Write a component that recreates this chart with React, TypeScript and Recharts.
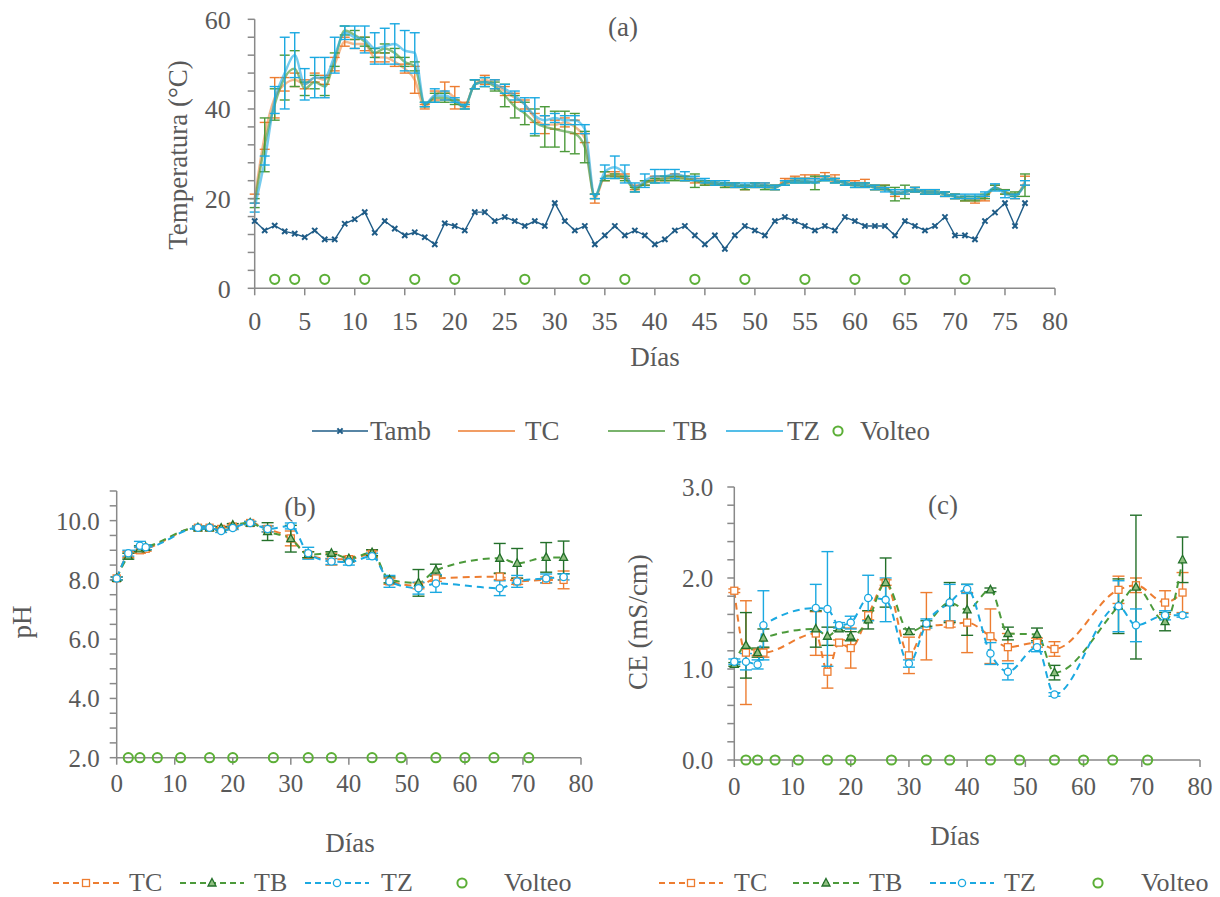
import React from "react";
import { ComposedChart, Line, XAxis, YAxis, ErrorBar } from "recharts";

const FONT = '"Liberation Serif", "DejaVu Serif", "Times New Roman", serif';
const TEXT = "#595959";
const AXIS = "#898989";
const C_TAMB = "#1F5C87";
const C_TC = "#ED7D31";
const C_TB = "#4C9A3B";
const C_TB_DARK = "#23702A";
const C_TZ = "#1BA9E1";
const C_VOL = "#5CAF37";

// ---- (a) temperatura diaria ----
const dias = [
  0, 1, 2, 3, 4, 5, 6, 7, 8, 9, 10, 11, 12, 13, 14, 15, 16, 17, 18, 19,
  20, 21, 22, 23, 24, 25, 26, 27, 28, 29, 30, 31, 32, 33, 34, 35, 36, 37, 38, 39,
  40, 41, 42, 43, 44, 45, 46, 47, 48, 49, 50, 51, 52, 53, 54, 55, 56, 57, 58, 59,
  60, 61, 62, 63, 64, 65, 66, 67, 68, 69, 70, 71, 72, 73, 74, 75, 76, 77,
];
const tamb = [
  15.0, 12.9, 14.0, 12.7, 12.2, 11.4, 12.9, 10.9, 10.9, 14.4, 15.4, 17.0, 12.4, 15.0, 13.3, 11.8, 12.5, 11.4, 9.8, 14.5,
  13.9, 12.9, 17.0, 17.0, 15.0, 15.9, 15.0, 13.9, 15.0, 13.9, 19.0, 15.0, 12.9, 13.9, 9.8, 11.8, 13.9, 11.8, 12.9, 11.8,
  9.8, 10.9, 12.9, 13.9, 11.8, 9.8, 11.8, 8.8, 11.8, 13.9, 12.9, 11.8, 15.0, 15.9, 15.0, 13.9, 12.9, 13.9, 12.9, 15.9,
  15.0, 13.9, 13.9, 13.9, 11.8, 15.0, 13.9, 12.9, 13.9, 15.9, 11.8, 11.8, 10.9, 15.0, 16.9, 19.0, 13.9, 19.0,
];
const tempTC = [
  20, 34, 42.5, 45.5, 46.5, 45.5, 47, 46.5, 50, 55, 54.5, 54.5, 51.5, 51.5, 50.5, 49, 46.5, 40.5, 43, 44,
  42.5, 41, 45.5, 46.5, 45.5, 44, 42.5, 41, 38, 36.5, 36.5, 37, 36, 33.5, 20, 25, 25.5, 25, 22.5, 23.5,
  24.5, 24.5, 25, 24.5, 24, 23.5, 23.5, 23, 23, 22.5, 23, 23, 22.5, 24, 24.5, 24.5, 24.5, 25, 24.5, 23.5,
  23.5, 23.5, 22.5, 22.5, 21, 21.5, 22, 21.5, 21.5, 21, 20.5, 20, 19.5, 20, 22.5, 21.5, 20.5, 24,
];
const tempTCErr = [
  1, 3, 4.5, 1.5, 1.5, 1, 1, 1, 1.5, 1, 1, 1.5, 1, 1, 1, 1, 3, 0.5, 1, 2,
  2.5, 0.5, 1, 1, 1, 1, 1, 1, 1, 2, 1, 1, 1.5, 1, 1, 1, 0.5, 0.5, 0.5, 0.5,
  0.5, 0.5, 0.5, 0.5, 0.5, 0.5, 0.5, 0.5, 0.5, 0.5, 0.5, 0.5, 0.5, 0.5, 0.5, 0.8, 0.8, 0.8, 0.8, 0.5,
  0.5, 0.8, 0.5, 0.5, 0.5, 0.5, 0.5, 0.5, 0.5, 0.5, 0.5, 0.5, 0.5, 0.5, 0.5, 0.5, 0.5, 1,
];
const tempTB = [
  19, 32, 41, 47, 49, 44.5, 46, 45, 51, 57.5, 56.5, 55, 52.5, 53.5, 52.5, 50.5, 49.5, 41, 42.5, 42.5,
  41.5, 40.5, 45.5, 46, 45, 43, 40.5, 39, 37, 36, 35.5, 35, 34.5, 31.5, 20.5, 25, 25, 24.5, 22, 23.5,
  24, 24.5, 24.5, 24.5, 24, 23.5, 23.5, 23, 23, 22.5, 23, 22.5, 22.5, 23.5, 24, 24, 23.5, 24.5, 24, 23.5,
  23, 23, 22.5, 22.5, 21, 21.5, 22, 21.5, 21.5, 21, 20.5, 20, 20, 20.5, 22.5, 21.5, 21, 23,
];
const tempTBErr = [
  1, 6, 3.5, 5, 4, 1.5, 1.5, 2, 1.5, 1, 1, 1, 1, 1, 1, 1, 1, 0.5, 1, 1,
  0.5, 0.5, 1, 1, 1, 2.5, 2.5, 2.5, 3, 4.5, 4, 4.5, 4.5, 3.5, 0.5, 1, 0.5, 0.5, 0.5, 0.5,
  0.5, 0.5, 0.5, 0.5, 1.5, 0.5, 0.5, 0.5, 0.5, 0.5, 0.5, 0.5, 0.5, 0.5, 0.5, 0.5, 1.5, 0.5, 0.5, 0.5,
  0.5, 0.5, 0.5, 0.5, 1.5, 1.5, 0.5, 0.5, 0.5, 0.5, 0.5, 0.5, 0.5, 0.5, 0.5, 0.5, 0.5, 2.5,
];
const tempTZ = [
  18, 28.5, 42, 48, 52, 45.5, 47, 47, 52, 57, 56, 55.5, 53.5, 54, 54.5, 53, 52.5, 41, 43, 43,
  42, 40.5, 45.5, 46, 45.5, 44.5, 43, 41, 38.5, 37.5, 38, 37.5, 37.5, 35.5, 20.5, 26, 27, 25.5, 22.5, 24,
  25, 25, 25.5, 25, 24.5, 24, 23.5, 23.5, 23, 23, 23, 23, 22.5, 23.5, 24, 24, 24, 24.5, 24, 23.5,
  23, 23, 22.5, 22, 21.5, 21.5, 22, 21.5, 21.5, 21, 20.5, 20.5, 20.5, 21, 22.5, 21, 20.5, 23.5,
];
const tempTZErr = [
  1, 1, 3, 8, 5, 3.5, 4.5, 4.5, 4, 1.5, 2.5, 3, 3.5, 4, 4.5, 4.5, 4.5, 0.5, 1.5, 1,
  0.5, 0.5, 1, 1, 1, 1, 1, 1.5, 4, 1, 1, 1, 1, 1, 0.5, 1.5, 2.5, 2, 1, 1.5,
  1.5, 1.5, 1, 1, 0.5, 0.5, 0.5, 0.5, 0.5, 0.5, 0.5, 0.5, 0.5, 0.5, 0.5, 0.5, 0.5, 0.5, 0.5, 0.5,
  0.5, 0.5, 0.5, 0.5, 0.5, 0.5, 0.5, 0.5, 0.5, 0.5, 0.5, 0.5, 0.5, 0.5, 0.8, 0.8, 0.5, 0.5,
];

// ---- volteos ----
const volteoDias = [2, 4, 7, 11, 16, 20, 27, 33, 37, 44, 49, 55, 60, 65, 71];
const volteoTemp = 2;
const volteoPH = 2;
const volteoCE = 0;

// ---- (b) pH y (c) CE por muestreo ----
const muestreo = [0, 2, 4, 5, 14, 16, 18, 20, 23, 26, 30, 33, 37, 40, 44, 47, 52, 55, 66, 69, 74, 77];
const phTC = [8.05, 8.85, 9.0, 9.05, 9.76, 9.76, 9.72, 9.8, 9.92, 9.72, 9.4, 8.85, 8.7, 8.7, 8.88, 7.95, 7.8, 8.05, 8.11, 7.95, 8.0, 8.0];
const phTCErr = [0.05, 0.1, 0.1, 0.08, 0.05, 0.05, 0.05, 0.05, 0.05, 0.1, 0.25, 0.1, 0.2, 0.1, 0.1, 0.1, 0.1, 0.1, 0.1, 0.1, 0.1, 0.3];
const phTB = [8.05, 8.8, 9.05, 9.1, 9.76, 9.76, 9.75, 9.85, 9.92, 9.63, 9.39, 8.85, 8.9, 8.72, 8.92, 8.0, 7.9, 8.33, 8.73, 8.56, 8.76, 8.76];
const phTBErr = [0.05, 0.1, 0.1, 0.08, 0.05, 0.05, 0.05, 0.05, 0.05, 0.3, 0.45, 0.1, 0.05, 0.05, 0.1, 0.1, 0.45, 0.2, 0.5, 0.5, 0.5, 0.55];
const phTZ = [8.05, 8.9, 9.15, 9.1, 9.76, 9.76, 9.65, 9.75, 9.92, 9.72, 9.82, 8.9, 8.62, 8.6, 8.8, 7.95, 7.72, 7.88, 7.72, 7.95, 8.05, 8.1];
const phTZErr = [0.05, 0.1, 0.15, 0.08, 0.05, 0.05, 0.05, 0.05, 0.05, 0.1, 0.1, 0.2, 0.1, 0.1, 0.1, 0.2, 0.2, 0.3, 0.25, 0.2, 0.15, 0.1];

const ceTC = [1.86, 1.18, 1.18, 1.18, 1.39, 0.97, 1.29, 1.23, 1.59, 1.95, 1.15, 1.47, 1.49, 1.51, 1.36, 1.24, 1.29, 1.22, 1.87, 1.92, 1.73, 1.84];
const ceTCErr = [0.02, 0.57, 0.03, 0.05, 0.24, 0.18, 0.03, 0.22, 0.05, 0.03, 0.2, 0.37, 0.03, 0.33, 0.3, 0.15, 0.05, 0.08, 0.15, 0.08, 0.13, 0.22];
const ceTB = [1.05, 1.26, 1.18, 1.34, 1.44, 1.36, 1.44, 1.36, 1.54, 1.95, 1.41, 1.5, 1.73, 1.65, 1.87, 1.39, 1.38, 0.96, 1.69, 1.9, 1.52, 2.2];
const ceTBErr = [0.02, 0.36, 0.05, 0.1, 0.2, 0.1, 0.02, 0.05, 0.1, 0.27, 0.03, 0.03, 0.22, 0.28, 0.02, 0.07, 0.07, 0.08, 0.3, 0.79, 0.1, 0.25];
const ceTZ = [1.08, 1.08, 1.05, 1.48, 1.67, 1.66, 1.48, 1.51, 1.78, 1.76, 1.06, 1.5, 1.73, 1.88, 1.17, 0.97, 1.24, 0.72, 1.69, 1.48, 1.59, 1.59];
const ceTZErr = [0.03, 0.09, 0.05, 0.38, 0.26, 0.63, 0.03, 0.07, 0.25, 0.24, 0.04, 0.05, 0.2, 0.05, 0.12, 0.09, 0.05, 0.02, 0.28, 0.18, 0.05, 0.02];

// ---- ejes ----
const xTicksA = [0, 5, 10, 15, 20, 25, 30, 35, 40, 45, 50, 55, 60, 65, 70, 75, 80];
const yTicksA = [0, 4, 8, 12, 16, 20, 24, 28, 32, 36, 40, 44, 48, 52, 56, 60];
const xTicksBC = [0, 10, 20, 30, 40, 50, 60, 70, 80];
const yTicksB = [2, 2.5, 3, 3.5, 4, 4.5, 5, 5.5, 6, 6.5, 7, 7.5, 8, 8.5, 9, 9.5, 10, 10.5, 11];
const yTicksC = [0, 0.2, 0.4, 0.6, 0.8, 1, 1.2, 1.4, 1.6, 1.8, 2, 2.2, 2.4, 2.6, 2.8, 3];

const tempRows = dias.map((d, i) => ({
  d,
  tamb: tamb[i],
  tc: tempTC[i],
  tcE: tempTCErr[i],
  tb: tempTB[i],
  tbE: tempTBErr[i],
  tz: tempTZ[i],
  tzE: tempTZErr[i],
}));
const phRows = muestreo.map((d, i) => ({
  d,
  tc: phTC[i], tcE: phTCErr[i],
  tb: phTB[i], tbE: phTBErr[i],
  tz: phTZ[i], tzE: phTZErr[i],
}));
const ceRows = muestreo.map((d, i) => ({
  d,
  tc: ceTC[i], tcE: ceTCErr[i],
  tb: ceTB[i], tbE: ceTBErr[i],
  tz: ceTZ[i], tzE: ceTZErr[i],
}));
const volRows = (v: number) => volteoDias.map((d) => ({ d, v }));

const tickA = { fill: TEXT, fontSize: 26, fontFamily: FONT };
const tickBC = { fill: TEXT, fontSize: 25, fontFamily: FONT };
const axisLineStyle = { stroke: AXIS, strokeWidth: 1.5 };
const tickLineStyle = { stroke: AXIS, strokeWidth: 1.5 };

function XDot(props: any) {
  const { cx, cy, index } = props;
  const s = 2.6;
  return (
    <path
      key={`x-${index}`}
      d={`M${cx - s},${cy - s}L${cx + s},${cy + s}M${cx - s},${cy + s}L${cx + s},${cy - s}`}
      stroke={C_TAMB}
      strokeWidth={2}
      fill="none"
    />
  );
}
function SquareDot(props: any) {
  const { cx, cy, index } = props;
  return <rect key={`s-${index}`} x={cx - 3.5} y={cy - 3.5} width={7} height={7} fill="#fff" stroke={C_TC} strokeWidth={1.3} />;
}
function TriDot(props: any) {
  const { cx, cy, index } = props;
  return (
    <path key={`t-${index}`} d={`M${cx},${cy - 4.5}L${cx + 4},${cy + 3}L${cx - 4},${cy + 3}Z`} fill="#8fbf80" stroke={C_TB_DARK} strokeWidth={1.3} />
  );
}
function CircDot(props: any) {
  const { cx, cy, index } = props;
  return <circle key={`c-${index}`} cx={cx} cy={cy} r={3.6} fill="#fff" stroke={C_TZ} strokeWidth={1.3} />;
}
function VolDot(props: any) {
  const { cx, cy, index } = props;
  return <circle key={`v-${index}`} cx={cx} cy={cy} r={4.6} fill="none" stroke={C_VOL} strokeWidth={2} />;
}

const Txt = ({ x, y, children, rotate, size = 27 }: any) => (
  <div
    style={{
      position: "absolute",
      left: x,
      top: y,
      transform: `translate(-50%, -50%)${rotate ? " rotate(-90deg)" : ""}`,
      fontFamily: FONT,
      fontSize: size,
      color: TEXT,
      whiteSpace: "nowrap",
      lineHeight: 1,
    }}
  >
    {children}
  </div>
);

const LegLine = ({ x, y, w, color, dashed, marker }: any) => (
  <svg style={{ position: "absolute", left: x, top: y - 10 }} width={w} height={20}>
    <line x1={0} y1={10} x2={w} y2={10} stroke={color} strokeWidth={dashed ? 2 : 1.6} strokeDasharray={dashed ? "6 4" : undefined} />
    {marker === "x" && <XDot cx={w / 2} cy={10} index={0} />}
    {marker === "s" && <SquareDot cx={w / 2} cy={10} index={0} />}
    {marker === "t" && <TriDot cx={w / 2} cy={10} index={0} />}
    {marker === "c" && <CircDot cx={w / 2} cy={10} index={0} />}
  </svg>
);
const LegVol = ({ x, y }: any) => (
  <svg style={{ position: "absolute", left: x - 10, top: y - 10 }} width={20} height={20}>
    <VolDot cx={10} cy={10} index={0} />
  </svg>
);
const LegText = ({ x, y, children, size = 27 }: any) => (
  <div style={{ position: "absolute", left: x, top: y - 16, fontFamily: FONT, fontSize: size, color: TEXT, lineHeight: "32px", whiteSpace: "nowrap" }}>
    {children}
  </div>
);

function TempChart() {
  return (
    <div style={{ position: "absolute", left: 0, top: 0 }}>
      <ComposedChart width={1220} height={345} margin={{ top: 19.3, right: 165, bottom: 26.7, left: 194.7 }}>
        <XAxis
          type="number"
          dataKey="d"
          domain={[0, 80]}
          ticks={xTicksA}
          interval={0}
          tick={tickA}
          tickSize={7}
          tickMargin={16}
          axisLine={axisLineStyle}
          tickLine={tickLineStyle}
          height={30}
        />
        <YAxis
          type="number"
          domain={[0, 60]}
          ticks={yTicksA}
          interval={0}
          tickFormatter={(v: number) => (v % 20 === 0 ? String(v) : "")}
          tick={tickA}
          tickSize={7}
          tickMargin={17}
          axisLine={axisLineStyle}
          tickLine={tickLineStyle}
          width={60}
        />
        <Line data={tempRows} dataKey="tamb" stroke={C_TAMB} strokeWidth={1.4} dot={XDot} activeDot={false} isAnimationActive={false} />
        <Line data={tempRows} dataKey="tc" type="monotone" stroke={C_TC} strokeOpacity={0.55} strokeWidth={2.4} dot={false} activeDot={false} isAnimationActive={false}>
          <ErrorBar dataKey="tcE" width={5} stroke={C_TC} strokeWidth={1.4} direction="y" />
        </Line>
        <Line data={tempRows} dataKey="tb" type="monotone" stroke={C_TB} strokeOpacity={0.65} strokeWidth={2.4} dot={false} activeDot={false} isAnimationActive={false}>
          <ErrorBar dataKey="tbE" width={5} stroke={C_TB} strokeWidth={1.4} direction="y" />
        </Line>
        <Line data={tempRows} dataKey="tz" type="monotone" stroke={C_TZ} strokeOpacity={0.6} strokeWidth={2.4} dot={false} activeDot={false} isAnimationActive={false}>
          <ErrorBar dataKey="tzE" width={5} stroke={C_TZ} strokeWidth={1.4} direction="y" />
        </Line>
        <Line data={volRows(volteoTemp)} dataKey="v" stroke="none" dot={VolDot} activeDot={false} isAnimationActive={false} />
      </ComposedChart>
    </div>
  );
}

function SmallChart({ left, rows, vol, domain, ticks, fmt, margin, yTickMargin }: any) {
  return (
    <div style={{ position: "absolute", left, top: 470 }}>
      <ComposedChart width={610} height={340} margin={margin}>
        <XAxis
          type="number"
          dataKey="d"
          domain={[0, 80]}
          ticks={xTicksBC}
          interval={0}
          tick={tickBC}
          tickSize={7}
          tickMargin={10}
          axisLine={axisLineStyle}
          tickLine={tickLineStyle}
          height={30}
        />
        <YAxis
          type="number"
          domain={domain}
          ticks={ticks}
          interval={0}
          tickFormatter={fmt}
          tick={tickBC}
          tickSize={7}
          tickMargin={yTickMargin}
          axisLine={axisLineStyle}
          tickLine={tickLineStyle}
          width={60}
        />
        <Line data={rows} dataKey="tc" type="monotone" stroke={C_TC} strokeWidth={2} strokeDasharray="7 5" dot={SquareDot} activeDot={false} isAnimationActive={false}>
          <ErrorBar dataKey="tcE" width={6} stroke={C_TC} strokeWidth={1.4} direction="y" />
        </Line>
        <Line data={rows} dataKey="tb" type="monotone" stroke={C_TB} strokeWidth={2} strokeDasharray="7 5" dot={TriDot} activeDot={false} isAnimationActive={false}>
          <ErrorBar dataKey="tbE" width={6} stroke={C_TB_DARK} strokeWidth={1.4} direction="y" />
        </Line>
        <Line data={rows} dataKey="tz" type="monotone" stroke={C_TZ} strokeWidth={2} strokeDasharray="7 5" dot={CircDot} activeDot={false} isAnimationActive={false}>
          <ErrorBar dataKey="tzE" width={6} stroke={C_TZ} strokeWidth={1.4} direction="y" />
        </Line>
        <Line data={volRows(vol)} dataKey="v" stroke="none" dot={VolDot} activeDot={false} isAnimationActive={false} />
      </ComposedChart>
    </div>
  );
}

const fmtPH = (v: number) => (v % 2 === 0 ? v.toFixed(1) : "");
const fmtCE = (v: number) => (Math.abs(v - Math.round(v)) < 1e-6 ? v.toFixed(1) : "");

export default function App() {
  return (
    <div style={{ position: "absolute", left: 0, top: 0, width: 1220, height: 897, background: "#fff", overflow: "hidden", fontFamily: FONT }}>
      <TempChart />
      <Txt x={623} y={27}>(a)</Txt>
      <Txt x={178} y={155} rotate>Temperatura (°C)</Txt>
      <Txt x={655} y={357}>Días</Txt>

      <LegLine x={312} y={431} w={56} color={C_TAMB} marker="x" />
      <LegText x={370} y={431}>Tamb</LegText>
      <LegLine x={458} y={431} w={57} color={C_TC} />
      <LegText x={525} y={431}>TC</LegText>
      <LegLine x={608} y={431} w={57} color={C_TB} />
      <LegText x={673} y={431}>TB</LegText>
      <LegLine x={726} y={431} w={57} color={C_TZ} />
      <LegText x={787} y={431}>TZ</LegText>
      <LegVol x={838} y={431} />
      <LegText x={860} y={431}>Volteo</LegText>

      <SmallChart
        left={0}
        rows={phRows}
        vol={volteoPH}
        domain={[2, 11]}
        ticks={yTicksB}
        fmt={fmtPH}
        yTickMargin={10}
        margin={{ top: 21, right: 29, bottom: 22.3, left: 56.7 }}
      />
      <Txt x={300} y={507}>(b)</Txt>
      <Txt x={22} y={622} rotate>pH</Txt>
      <Txt x={350} y={843}>Días</Txt>

      <SmallChart
        left={610}
        rows={ceRows}
        vol={volteoCE}
        domain={[0, 3]}
        ticks={yTicksC}
        fmt={fmtCE}
        yTickMargin={14}
        margin={{ top: 17, right: 20, bottom: 20, left: 64.3 }}
      />
      <Txt x={943} y={505}>(c)</Txt>
      <Txt x={638} y={622} rotate>CE (mS/cm)</Txt>
      <Txt x={955} y={836}>Días</Txt>

      <LegLine x={53} y={883} w={66} color={C_TC} dashed marker="s" />
      <LegText x={129} y={883} size={26}>TC</LegText>
      <LegLine x={180} y={883} w={64} color={C_TB} dashed marker="t" />
      <LegText x={254} y={883} size={26}>TB</LegText>
      <LegLine x={305} y={883} w={64} color={C_TZ} dashed marker="c" />
      <LegText x={381} y={883} size={26}>TZ</LegText>
      <LegVol x={462} y={883} />
      <LegText x={504} y={883} size={26}>Volteo</LegText>

      <LegLine x={659} y={883} w={64} color={C_TC} dashed marker="s" />
      <LegText x={734} y={883} size={26}>TC</LegText>
      <LegLine x={793} y={883} w={66} color={C_TB} dashed marker="t" />
      <LegText x={869} y={883} size={26}>TB</LegText>
      <LegLine x={930} y={883} w={64} color={C_TZ} dashed marker="c" />
      <LegText x={1004} y={883} size={26}>TZ</LegText>
      <LegVol x={1098} y={883} />
      <LegText x={1141} y={883} size={26}>Volteo</LegText>
    </div>
  );
}
